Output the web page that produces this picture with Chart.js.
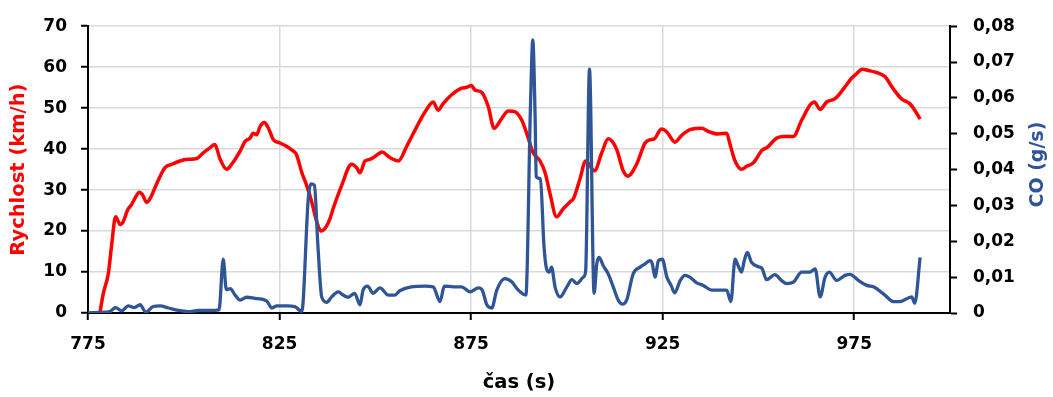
<!DOCTYPE html>
<html><head><meta charset="utf-8">
<script src="https://cdn.jsdelivr.net/npm/chart.js@4.4.1/dist/chart.umd.min.js"></script>
<style>html,body{margin:0;padding:0;background:#fff;}canvas{display:block;}</style>
</head><body>
<canvas id="c" width="1053" height="397"></canvas>
<script>
const xTicks = [775, 825, 875, 925, 975];
const speedTicks = [0, 10, 20, 30, 40, 50, 60, 70];
const coTicks = [0, 0.01, 0.02, 0.03, 0.04, 0.05, 0.06, 0.07, 0.08];

const speedTime = [778.1,779.0,780.3,781.2,782.2,783.4,784.2,785.3,786.4,787.2,788.4,789.2,790.3,791.2,792.9,795.1,796.9,799.0,801.2,803.4,805.1,806.8,808.1,809.5,811.2,812.5,814.7,816.0,817.3,818.1,819.0,819.9,821.0,822.1,823.4,825.1,826.8,828.6,829.4,830.8,832.1,833.4,834.7,835.8,837.0,838.2,839.0,841.2,843.8,845.1,846.0,847.3,848.6,849.9,851.8,853.4,854.7,856.0,858.2,860.4,863.0,865.1,866.4,867.7,869.7,872.1,873.8,875.1,876.0,877.7,879.5,881.0,883.0,884.7,886.5,888.2,889.5,891.2,893.0,894.3,895.6,897.3,899.1,900.8,901.7,903.4,904.9,907.2,909.1,910.8,913.0,914.7,915.9,918.2,920.4,921.7,922.8,924.7,926.0,928.2,929.9,932.3,935.2,936.9,939.5,941.7,942.6,943.9,945.6,946.9,948.7,951.0,952.1,954.8,956.5,959.1,961.3,963.6,964.6,966.1,967.8,970.0,972.2,974.3,975.6,977.1,978.7,980.8,983.0,985.2,987.3,989.5,990.8,992.2];
const speedKmh = [0,4.8,9.6,16.8,23.5,21.6,22.3,25.1,26.5,27.9,29.5,28.9,27.0,27.9,31.5,35.5,36.3,37.1,37.5,37.7,39.1,40.3,41.1,37.5,35.1,36.3,39.5,41.9,42.7,43.9,43.5,45.5,46.5,45.1,42.3,41.5,40.7,39.5,38.7,34.3,31.1,27.1,22.3,20.0,20.8,23.1,25.5,31.1,36.3,35.5,34.2,37.1,37.5,38.2,39.3,38.2,37.5,37.1,40.7,44.7,49.1,51.5,49.5,51.1,53.1,54.7,55.1,55.5,54.4,53.9,50.3,45.1,47.5,49.3,49.1,47.1,43.9,39.1,37.1,34.3,29.1,23.5,25.5,27.1,27.9,32.7,37.1,34.7,39.1,42.5,39.9,34.7,33.4,36.3,41.5,42.3,42.5,44.9,44.3,41.7,43.3,44.8,45.1,44.3,43.7,43.9,41.1,37.1,35.1,35.8,36.7,39.8,40.3,42.7,43.1,43.1,47.1,50.9,51.5,49.7,51.5,52.3,54.7,57.3,58.4,59.5,59.2,58.7,57.7,54.7,52.3,51.1,49.5,47.3];

const coTime = [775.0,778.6,780.7,782.2,783.8,785.5,787.1,788.6,790.1,792.0,793.8,796.0,798.6,801.2,803.8,806.8,809.2,810.3,811.1,812.1,813.4,814.7,816.4,818.6,821.6,823.0,824.3,826.9,829.0,830.8,832.5,833.2,834.1,835.0,836.0,837.3,838.6,840.3,841.6,842.9,844.6,846.0,846.8,848.0,849.4,851.2,853.4,855.1,856.4,859.4,863.0,865.1,866.9,868.0,870.4,872.5,874.7,876.9,877.9,879.1,880.4,881.7,883.8,885.6,887.3,889.3,890.5,891.1,891.7,892.0,893.1,894.0,894.7,895.4,896.0,896.9,898.2,900.0,901.3,902.6,904.3,904.9,905.9,907.1,907.8,908.4,909.5,910.8,912.1,913.4,914.5,915.6,917.3,919.1,920.4,921.7,922.3,923.0,923.9,924.9,926.1,927.2,928.1,929.6,930.8,932.1,933.9,935.6,937.8,940.4,941.7,942.8,943.9,944.7,945.6,946.3,947.1,948.2,950.0,951.0,952.1,954.3,956.0,957.4,959.1,961.3,963.4,964.8,966.1,967.4,968.5,970.4,972.6,973.9,976.1,978.3,980.0,983.0,985.2,987.0,990.0,990.8,992.2];
const coGs = [0,0.0002,0.0004,0.0015,0.0006,0.002,0.0015,0.0023,0.0002,0.0018,0.002,0.0014,0.0007,0.0004,0.0007,0.0007,0.0009,0.015,0.0065,0.0068,0.005,0.0036,0.0044,0.0041,0.0034,0.0014,0.002,0.002,0.0018,0.0004,0.032,0.036,0.0356,0.019,0.0045,0.003,0.0045,0.0059,0.005,0.0044,0.0055,0.0023,0.0064,0.0075,0.0055,0.007,0.005,0.005,0.0062,0.0073,0.0075,0.0073,0.0032,0.0075,0.0073,0.0073,0.0059,0.007,0.0064,0.0023,0.0014,0.0064,0.0096,0.0087,0.0064,0.005,0.058,0.0762,0.055,0.038,0.0374,0.019,0.0123,0.0114,0.0128,0.0073,0.0045,0.0073,0.0093,0.0082,0.010,0.0118,0.068,0.0055,0.0137,0.0155,0.0132,0.0109,0.0073,0.0036,0.0025,0.0036,0.0109,0.0128,0.0137,0.0146,0.0137,0.010,0.0146,0.015,0.010,0.0077,0.0056,0.0091,0.0105,0.010,0.0084,0.0077,0.0064,0.0064,0.0064,0.0032,0.015,0.0132,0.0114,0.0146,0.0169,0.0141,0.0129,0.0123,0.0093,0.0107,0.0091,0.0082,0.0086,0.0114,0.0114,0.0123,0.0045,0.010,0.0114,0.0091,0.0105,0.0108,0.0091,0.0077,0.0073,0.005,0.0032,0.0032,0.0045,0.0027,0.0155];

const FONT = '"DejaVu Sans"';
const tickFont = {family: FONT, weight: 'bold', size: 17};
const titleFont = {family: FONT, weight: 'bold', size: 19.5};
const RED = '#FF0000';
const BLUE = '#2F5597';

const whiteBg = {
  id: 'whiteBg',
  beforeDraw(chart) {
    const c = chart.ctx; c.save(); c.fillStyle = '#fff';
    c.fillRect(0, 0, chart.width, chart.height); c.restore();
  }
};
const rightTitle = {
  id: 'rightTitle',
  afterDraw(chart) {
    const c = chart.ctx, a = chart.chartArea, s = chart.scales.y2;
    c.save();
    c.translate(s.right - 15, (a.top + a.bottom) / 2 - 5);
    c.rotate(-Math.PI / 2);
    c.font = 'bold 19px ' + FONT;
    c.fillStyle = BLUE;
    c.textAlign = 'center'; c.textBaseline = 'middle';
    c.fillText('CO (g/s)', 0, 0);
    c.restore();
  }
};

const gridCommon = {color: '#d9d9d9', lineWidth: 1.5, drawTicks: true, tickLength: 7, tickColor: '#000', tickWidth: 2};
const borderCommon = {color: '#000', width: 2};

new Chart(document.getElementById('c'), {
  type: 'line',
  data: {
    datasets: [
      {label: 'CO (g/s)', yAxisID: 'y2', data: coTime.map((t, i) => ({x: t, y: coGs[i]})),
       borderColor: BLUE, borderWidth: 3.3, pointRadius: 0, cubicInterpolationMode: 'monotone', fill: false},
      {label: 'Rychlost (km/h)', yAxisID: 'y', data: speedTime.map((t, i) => ({x: t, y: speedKmh[i]})),
       borderColor: RED, borderWidth: 3.5, pointRadius: 0, cubicInterpolationMode: 'monotone', fill: false}
    ]
  },
  options: {
    responsive: false,
    animation: false,
    layout: {padding: {top: 21, left: 0, right: 0, bottom: 0}},
    plugins: {legend: {display: false}, tooltip: {enabled: false}},
    scales: {
      x: {
        type: 'linear', position: 'bottom', min: 775, max: 1000,
        afterBuildTicks: s => { s.ticks = xTicks.map(v => ({value: v})); },
        afterFit: s => { s.height = 84; },
        grid: gridCommon, border: borderCommon,
        ticks: {padding: 14, color: '#000', font: tickFont, maxRotation: 0, autoSkip: false},
        title: {display: true, text: 'čas (s)', color: '#000', font: titleFont, padding: {top: 0, bottom: 2}}
      },
      y: {
        type: 'linear', position: 'left', min: 0, max: 70,
        afterBuildTicks: s => { s.ticks = speedTicks.map(v => ({value: v})); },
        afterFit: s => { s.width = 88; },
        grid: gridCommon, border: borderCommon,
        ticks: {padding: 14, color: '#000', font: tickFont},
        title: {display: true, text: 'Rychlost (km/h)', color: RED, font: titleFont, padding: {top: 7, bottom: 0}}
      },
      y2: {
        type: 'linear', position: 'right', min: 0, max: 0.08,
        afterBuildTicks: s => { s.ticks = coTicks.map(v => ({value: v})); },
        afterFit: s => { s.width = 103; },
        grid: {drawOnChartArea: false, drawTicks: true, tickLength: 7, tickColor: '#000', tickWidth: 2, color: '#000'},
        border: borderCommon,
        ticks: {padding: 16, color: '#000', font: tickFont,
                callback: v => v === 0 ? '0' : v.toFixed(2).replace('.', ',')}
      }
    }
  },
  plugins: [whiteBg, rightTitle]
});
</script>
</body></html>
